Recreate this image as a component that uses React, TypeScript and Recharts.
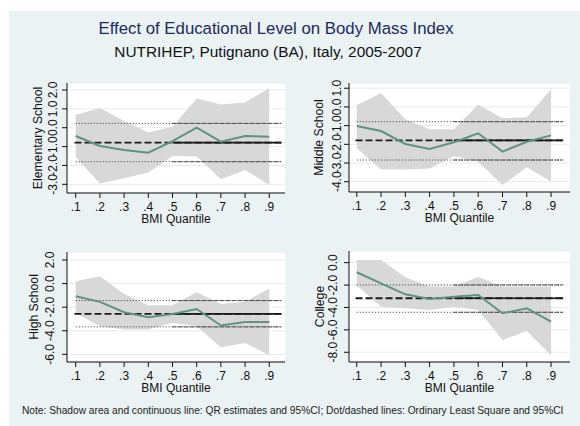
import React from 'react';
import {
  ComposedChart,
  Area,
  Line,
  XAxis,
  YAxis,
  CartesianGrid,
  ReferenceLine,
} from 'recharts';

// ---------------- data ----------------
const quantiles = [0.1, 0.2, 0.3, 0.4, 0.5, 0.6, 0.7, 0.8, 0.9];
const xTickLabels = ['.1', '.2', '.3', '.4', '.5', '.6', '.7', '.8', '.9'];

const elemQR = [-0.44, -0.97, -1.18, -1.32, -0.71, 0.0, -0.74, -0.44, -0.48];
const elemHi = [0.67, 1.04, 0.35, -0.26, 0.05, 1.55, 1.23, 1.34, 2.1];
const elemLo = [-1.57, -2.95, -2.68, -2.38, -1.5, -1.53, -2.73, -2.24, -3.03];
const elemOLS = [-0.79, 0.23, -1.8]; // estimate, upper CI, lower CI
const elemYTicks = [-3, -2, -1, 0, 1, 2];

const midQR = [-1.02, -1.29, -1.98, -2.25, -1.89, -1.41, -2.39, -1.86, -1.52];
const midHi = [0.11, 0.73, -0.66, -1.2, -1.2, 0.13, -0.61, -0.55, 0.95];
const midLo = [-2.21, -3.34, -3.34, -3.29, -2.63, -2.93, -4.18, -3.23, -4.0];
const midOLS = [-1.79, -0.79, -2.84];
const midYTicks = [-4, -3, -2, -1, 0, 1];

const highQR = [-1.07, -1.55, -2.43, -2.85, -2.57, -2.15, -3.56, -3.25, -3.25];
const highHi = [0.2, 0.62, -0.88, -1.84, -1.84, -0.73, -1.72, -1.55, -0.42];
const highLo = [-2.49, -3.62, -3.9, -3.9, -3.33, -3.62, -5.4, -5.03, -6.07];
const highOLS = [-2.57, -1.44, -3.67];
const highYTicks = [-6, -4, -2, 0, 2];

const colQR = [-0.86, -1.85, -2.83, -3.24, -3.04, -2.89, -4.52, -4.08, -5.27];
const colHi = [0.24, 0.24, -1.31, -2.14, -2.14, -1.28, -2.14, -2.14, -2.14];
const colLo = [-2.05, -3.93, -4.08, -4.23, -3.93, -4.23, -6.9, -6.1, -8.3];
const colOLS = [-3.18, -1.99, -4.43];
const colYTicks = [-8, -6, -4, -2, 0];

// ---------------- styles ----------------
const FONT = '"Liberation Sans", Arial, Helvetica, sans-serif';
const BG = '#eaf2f3';
const BAND = '#d8d8d8';
const QR_COLOR = '#5f9282';
const GRID = '#e4ecef';

type PanelProps = {
  left: number;
  top: number;
  width: number;
  height: number;
  margin: { top: number; right: number; bottom: number; left: number };
  yAxisWidth: number;
  xAxisHeight: number;
  qr: number[];
  hi: number[];
  lo: number[];
  ols: number[];
  yTicks: number[];
  yDomain: [number, number];
  xDomain: [number, number];
  yTitle: string;
  tickCenterOff: number;
  titleCenterOff: number;
};

function Panel(p: PanelProps) {
  const rows = quantiles.map((q, i) => ({ q, qr: p.qr[i], band: [p.lo[i], p.hi[i]] }));
  const TICK = 5;
  const RotTick = (props: any) => {
    const { x, y, payload } = props;
    const axisX = x + TICK;
    const bx = axisX - p.tickCenterOff + 4.3;
    return (
      <text
        x={bx}
        y={y}
        transform={`rotate(-90, ${bx}, ${y})`}
        textAnchor="middle"
        fontSize={12}
        fontFamily={FONT}
        fill="#111"
      >
        {Number(payload.value).toFixed(1)}
      </text>
    );
  };
  const yLabel = (props: any) => {
    const vb = props.viewBox || {};
    const axisX = vb.x + vb.width;
    const cx = axisX - p.titleCenterOff + 4.3;
    const cy = vb.y + vb.height / 2;
    return (
      <text
        x={cx}
        y={cy}
        transform={`rotate(-90, ${cx}, ${cy})`}
        textAnchor="middle"
        fontSize={12.2}
        fontFamily={FONT}
        fill="#111"
      >
        {p.yTitle}
      </text>
    );
  };
  const xLabel = (props: any) => {
    const vb = props.viewBox || {};
    return (
      <text
        x={vb.x + vb.width / 2}
        y={vb.y + 30}
        textAnchor="middle"
        fontSize={12}
        fontFamily={FONT}
        fill="#111"
      >
        BMI Quantile
      </text>
    );
  };
  const [est, up, low] = p.ols;
  return (
    <div style={{ position: 'absolute', left: p.left, top: p.top }}>
      <ComposedChart width={p.width} height={p.height} data={rows} margin={p.margin}>
        <CartesianGrid horizontal vertical={false} fill="#ffffff" stroke={GRID} strokeWidth={1} />
        <XAxis
          dataKey="q"
          type="number"
          domain={p.xDomain}
          ticks={quantiles}
          interval={0}
          allowDataOverflow
          tickFormatter={(v: number) => xTickLabels[quantiles.indexOf(v)] ?? ''}
          height={p.xAxisHeight}
          tickSize={TICK}
          tickMargin={4}
          axisLine={{ stroke: '#111' }}
          tickLine={{ stroke: '#111' }}
          tick={{ fontSize: 12, fill: '#111', fontFamily: FONT }}
          label={xLabel}
        />
        <YAxis
          type="number"
          domain={p.yDomain}
          ticks={p.yTicks}
          interval={0}
          allowDataOverflow
          width={p.yAxisWidth}
          tickSize={TICK}
          tickMargin={0}
          axisLine={{ stroke: '#111' }}
          tickLine={{ stroke: '#111' }}
          tick={RotTick}
          label={yLabel}
        />
        <Area
          dataKey="band"
          type="linear"
          fill={BAND}
          fillOpacity={1}
          stroke="none"
          isAnimationActive={false}
          activeDot={false}
        />
        <ReferenceLine
          segment={[{ x: 0.1, y: up }, { x: 0.95, y: up }]}
          stroke="#333"
          strokeWidth={1}
          strokeDasharray="1 2"
        />
        <ReferenceLine
          segment={[{ x: 0.5, y: up }, { x: 0.95, y: up }]}
          stroke="#444"
          strokeWidth={1}
          strokeDasharray="3 1 1 1"
        />
        <ReferenceLine
          segment={[{ x: 0.1, y: low }, { x: 0.95, y: low }]}
          stroke="#333"
          strokeWidth={1}
          strokeDasharray="1 2"
        />
        <ReferenceLine
          segment={[{ x: 0.5, y: low }, { x: 0.95, y: low }]}
          stroke="#444"
          strokeWidth={1}
          strokeDasharray="3 1 1 1"
        />
        <ReferenceLine
          segment={[{ x: 0.095, y: est }, { x: 0.95, y: est }]}
          stroke="#1a1a1a"
          strokeWidth={1.8}
          strokeDasharray="7 3"
        />
        <ReferenceLine
          segment={[{ x: 0.5, y: est }, { x: 0.95, y: est }]}
          stroke="#1a1a1a"
          strokeWidth={1.6}
        />
        <Line
          dataKey="qr"
          type="linear"
          stroke={QR_COLOR}
          strokeWidth={2}
          dot={false}
          activeDot={false}
          isAnimationActive={false}
        />
      </ComposedChart>
    </div>
  );
}

export default function App() {
  return (
    <div
      style={{
        position: 'absolute',
        left: 0,
        top: 0,
        width: 580,
        height: 426,
        background: '#ffffff',
        overflow: 'hidden',
        fontFamily: FONT,
      }}
    >
      <div style={{ position: 'absolute', left: 9, top: 11, right: 0, bottom: 0, background: BG }} />
      <svg
        width={580}
        height={426}
        style={{ position: 'absolute', left: 0, top: 0, pointerEvents: 'none' }}
      >
        <text x={276} y={33.5} textAnchor="middle" fontSize={16.8} fontFamily={FONT} fill="#1c2a5c">
          Effect of Educational Level on Body Mass Index
        </text>
        <text x={268} y={57} textAnchor="middle" fontSize={15.4} fontFamily={FONT} fill="#111">
          NUTRIHEP, Putignano (BA), Italy, 2005-2007
        </text>
        <text x={22} y={413.5} fontSize={10.2} fontFamily={FONT} fill="#222">
          Note: Shadow area and continuous line: QR estimates and 95%CI; Dot/dashed lines: Ordinary Least Square and 95%CI
        </text>
      </svg>
      <Panel
        left={0}
        top={80}
        width={290}
        height={150}
        margin={{ top: 3, right: 5, bottom: 0, left: 0 }}
        yAxisWidth={67}
        xAxisHeight={37}
        qr={elemQR}
        hi={elemHi}
        lo={elemLo}
        ols={elemOLS}
        yTicks={elemYTicks}
        yDomain={[-3.46, 2.37]}
        xDomain={[0.064, 0.965]}
        yTitle="Elementary School"
        tickCenterOff={14.5}
        titleCenterOff={29}
      />
      <Panel
        left={290}
        top={80}
        width={290}
        height={150}
        margin={{ top: 3, right: 10, bottom: 0, left: 0 }}
        yAxisWidth={59}
        xAxisHeight={38}
        qr={midQR}
        hi={midHi}
        lo={midLo}
        ols={midOLS}
        yTicks={midYTicks}
        yDomain={[-4.55, 1.28]}
        xDomain={[0.068, 0.978]}
        yTitle="Middle School"
        tickCenterOff={12.5}
        titleCenterOff={30}
      />
      <Panel
        left={0}
        top={245}
        width={290}
        height={150}
        margin={{ top: 7, right: 5, bottom: 0, left: 0 }}
        yAxisWidth={67}
        xAxisHeight={33}
        qr={highQR}
        hi={highHi}
        lo={highLo}
        ols={highOLS}
        yTicks={highYTicks}
        yDomain={[-6.65, 2.68]}
        xDomain={[0.064, 0.965]}
        yTitle="High School"
        tickCenterOff={17}
        titleCenterOff={33}
      />
      <Panel
        left={290}
        top={245}
        width={290}
        height={150}
        margin={{ top: 6, right: 10, bottom: 0, left: 0 }}
        yAxisWidth={59}
        xAxisHeight={33}
        qr={colQR}
        hi={colHi}
        lo={colLo}
        ols={colOLS}
        yTicks={colYTicks}
        yDomain={[-8.87, 1.04]}
        xDomain={[0.068, 0.978]}
        yTitle="College"
        tickCenterOff={16}
        titleCenterOff={29}
      />
    </div>
  );
}
